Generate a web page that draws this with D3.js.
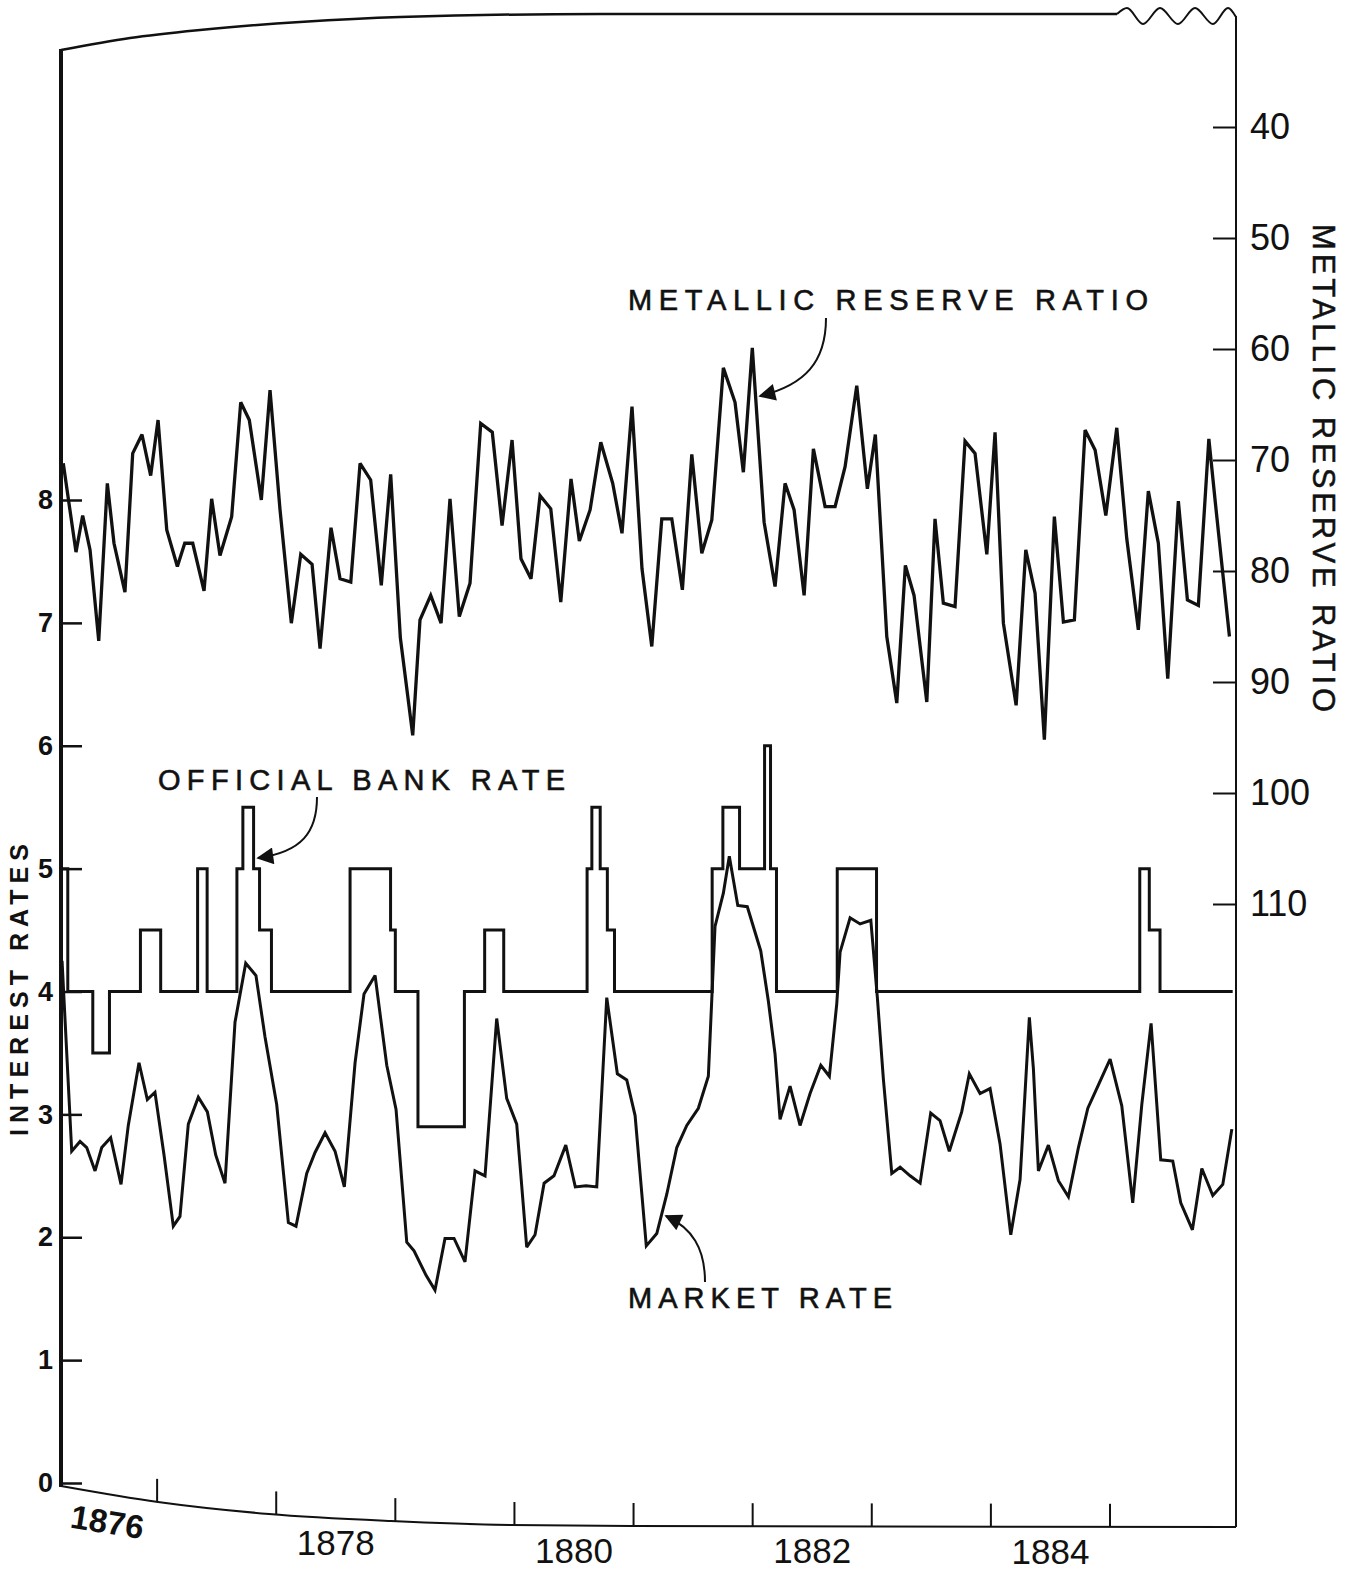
<!DOCTYPE html>
<html><head><meta charset="utf-8">
<script src="https://cdn.jsdelivr.net/npm/d3@7"></script>
<style>body{margin:0;background:#fff} svg{display:block}</style>
</head><body>
<svg id="chart" width="1353" height="1572"></svg>
<script>
// ---------------- DATA ----------------
const mrrDates = [1876.212,1876.319,1876.375,1876.437,1876.510,1876.582,1876.638,1876.730,1876.795,1876.873,
1876.946,1877.008,1877.081,1877.170,1877.232,1877.299,1877.394,1877.458,1877.528,1877.626,
1877.702,1877.774,1877.875,1877.948,1878.032,1878.127,1878.206,1878.301,1878.368,1878.460,
1878.536,1878.626,1878.704,1878.793,1878.882,1878.961,1879.042,1879.146,1879.207,1879.297,
1879.384,1879.459,1879.537,1879.627,1879.717,1879.814,1879.896,1879.980,1880.055,1880.139,
1880.215,1880.305,1880.389,1880.475,1880.545,1880.635,1880.725,1880.825,1880.903,1880.987,
1881.071,1881.153,1881.237,1881.321,1881.410,1881.489,1881.573,1881.657,1881.754,1881.852,
1881.922,1881.997,1882.096,1882.188,1882.272,1882.348,1882.432,1882.510,1882.608,1882.692,
1882.776,1882.874,1882.963,1883.030,1883.126,1883.210,1883.282,1883.355,1883.462,1883.531,
1883.601,1883.699,1883.783,1883.867,1883.966,1884.035,1884.105,1884.212,1884.293,1884.371,
1884.449,1884.533,1884.609,1884.701,1884.791,1884.875,1884.965,1885.057,1885.141,1885.238,
1885.322,1885.406,1885.485,1885.574,1885.650,1885.742,1885.830,1885.885,1886.003];
const mrrValues = [70.3,78.3,75.0,78.1,86.3,72.1,77.5,81.9,69.4,67.7,
71.4,66.4,76.3,79.6,77.5,77.5,81.8,73.5,78.6,75.1,
64.8,66.4,73.6,63.7,74.5,84.7,78.5,79.4,87.0,76.1,
80.7,81.0,70.3,71.8,81.3,71.3,86.0,94.8,84.4,82.2,
84.7,73.5,84.1,81.1,66.7,67.5,75.9,68.2,78.9,80.7,
73.2,74.4,82.8,71.7,77.3,74.5,68.4,72.1,76.6,65.2,
79.8,86.8,75.3,75.3,81.7,69.5,78.4,75.4,61.7,64.8,
71.1,59.9,75.6,81.4,72.1,74.5,82.2,69.0,74.2,74.2,
70.6,63.3,72.6,67.7,85.9,91.9,79.5,82.2,91.8,75.3,
82.9,83.2,68.3,69.4,78.5,67.5,84.7,92.1,78.1,82.0,
95.2,75.1,84.6,84.4,67.3,69.1,75.0,67.1,77.1,85.3,
72.8,77.5,89.7,73.7,82.6,83.1,68.1,73.9,85.9];

const marketDates = [1876.202,1876.283,1876.353,1876.409,1876.479,1876.535,1876.610,1876.697,1876.758,1876.848,
1876.918,1876.982,1877.058,1877.136,1877.192,1877.262,1877.346,1877.422,1877.492,1877.570,
1877.654,1877.744,1877.830,1877.906,1878.004,1878.102,1878.166,1878.256,1878.326,1878.410,
1878.494,1878.572,1878.662,1878.737,1878.830,1878.928,1879.006,1879.096,1879.157,1879.258,
1879.333,1879.417,1879.493,1879.585,1879.669,1879.753,1879.851,1879.935,1880.019,1880.103,
1880.173,1880.249,1880.332,1880.431,1880.511,1880.601,1880.691,1880.775,1880.864,1880.943,
1881.013,1881.107,1881.195,1881.279,1881.363,1881.447,1881.544,1881.628,1881.684,1881.754,
1881.804,1881.875,1881.955,1882.068,1882.132,1882.188,1882.230,1882.314,1882.398,1882.482,
1882.572,1882.644,1882.706,1882.734,1882.818,1882.902,1882.992,1883.047,1883.098,1883.168,
1883.238,1883.322,1883.406,1883.495,1883.573,1883.651,1883.755,1883.819,1883.909,1883.993,
1884.077,1884.167,1884.245,1884.323,1884.357,1884.399,1884.483,1884.567,1884.651,1884.735,
1884.814,1884.903,1885.001,1885.099,1885.191,1885.267,1885.345,1885.426,1885.527,1885.594,
1885.692,1885.771,1885.863,1885.947,1886.023];
const marketValues = [4.25,2.70,2.78,2.73,2.54,2.73,2.81,2.43,2.91,3.42,
3.12,3.18,2.67,2.09,2.17,2.92,3.14,3.02,2.67,2.44,
3.75,4.23,4.13,3.63,3.08,2.12,2.09,2.52,2.69,2.85,
2.70,2.41,3.42,3.98,4.13,3.40,3.04,1.96,1.89,1.69,
1.57,1.99,1.99,1.80,2.54,2.50,3.78,3.13,2.92,1.92,
2.02,2.44,2.50,2.75,2.41,2.42,2.41,3.95,3.33,3.28,
2.99,1.93,2.03,2.35,2.73,2.91,3.05,3.31,4.53,4.80,
5.10,4.70,4.69,4.33,3.92,3.49,2.96,3.23,2.91,3.17,
3.40,3.31,3.90,4.32,4.60,4.55,4.58,3.95,3.28,2.52,
2.57,2.50,2.44,3.01,2.95,2.70,3.02,3.33,3.17,3.21,
2.76,2.02,2.47,3.79,3.37,2.54,2.75,2.46,2.33,2.73,
3.05,3.24,3.45,3.07,2.28,3.08,3.74,2.63,2.62,2.28,
2.06,2.56,2.34,2.43,2.88];

// official bank rate: value holds from each date until the next one
const bankDates = [1876.20,1876.25,1876.46,1876.60,1876.86,1877.03,1877.34,1877.42,1877.67,1877.72,
1877.81,1877.86,1877.96,1878.62,1878.96,1879.00,1879.19,1879.58,1879.75,1879.91,
1880.61,1880.65,1880.72,1880.78,1880.84,1881.66,1881.75,1881.89,1882.10,1882.15,
1882.20,1882.71,1883.04,1885.25,1885.33,1885.42,1886.03];
const bankValues = [5,4,3.5,4,4.5,4,5,4,5,5.5,
5,4.5,4,5,4.5,4,2.9,4,4.5,4,
5,5.5,5,4.5,4,5,5.5,5,6,5,
4,5,4,5,4.5,4,4];

const leftTicks = [0,1,2,3,4,5,6,7,8];
const rightTicks = [40,50,60,70,80,90,100,110];
const yearTicks = [1877,1878,1879,1880,1881,1882,1883,1884,1885];
const yearLabels = [1876,1878,1880,1882,1884];

// ---------------- DRAWING ----------------
const FONT = "'Liberation Sans', Arial, sans-serif";
const ink = '#111';
const svg = d3.select('#chart');

const x = d3.scaleLinear().domain([1876, 1886]).range([38, 1229.1]);
const yL = d3.scaleLinear().domain([0, 8]).range([1483, 500]);
const yR = d3.scaleLinear().domain([40, 110]).range([127, 904]);

const leftX = 61, rightX = 1236;
// warped bottom baseline of the paper
const baseY = d3.scaleLinear().domain([61,158,269,391,511,631,1236]).range([1486,1502,1514,1521,1525,1526,1527]);

const defs = svg.append('defs');
defs.append('marker').attr('id','arrow').attr('viewBox','0 0 10 10')
  .attr('refX',9).attr('refY',5).attr('markerWidth',22).attr('markerHeight',17)
  .attr('markerUnits','userSpaceOnUse').attr('orient','auto')
  .append('path').attr('d','M0,0 L10,5 L0,10 Z').attr('fill',ink);

// frame
const topPts = [[leftX,50],[130,38],[200,30],[300,22],[400,17],[600,14],[1117,14]];
svg.append('path').attr('d', d3.line().curve(d3.curveMonotoneX)(topPts))
  .attr('fill','none').attr('stroke',ink).attr('stroke-width',2.5);
const wavePts = [[1117,14],[1127,8],[1143,24],[1160,8],[1178,24],[1195,8],[1213,24],[1228,8],[1236,17]];
svg.append('path').attr('d', d3.line().curve(d3.curveMonotoneX)(wavePts))
  .attr('fill','none').attr('stroke',ink).attr('stroke-width',2);
svg.append('line').attr('x1',rightX).attr('x2',rightX).attr('y1',16).attr('y2',1527)
  .attr('stroke',ink).attr('stroke-width',2);
svg.append('line').attr('x1',leftX).attr('x2',leftX).attr('y1',49).attr('y2',1487)
  .attr('stroke',ink).attr('stroke-width',4);
const basePts = baseY.domain().map(d => [d, baseY(d)]);
svg.append('path').attr('d', d3.line().curve(d3.curveMonotoneX)(basePts))
  .attr('fill','none').attr('stroke',ink).attr('stroke-width',2);

// year ticks on the curved baseline
svg.selectAll('.yt').data(yearTicks).join('line')
  .attr('x1', d => x(d)).attr('x2', d => x(d))
  .attr('y1', d => baseY(x(d))).attr('y2', d => baseY(x(d)) - 23)
  .attr('stroke', ink).attr('stroke-width', 2);
svg.selectAll('.yl').data(yearLabels).join('text')
  .attr('transform', d => {
    const cx = x(d + 0.5) + (d === 1876 ? 8 : 0);
    const cy = baseY(cx) + (d === 1876 ? 40 : 37);
    return `translate(${cx},${cy}) rotate(${d === 1876 ? 9 : 0})`;
  })
  .attr('text-anchor','middle').attr('font-family',FONT)
  .attr('font-size', d => d === 1876 ? 33 : 35)
  .attr('font-weight', d => d === 1876 ? 'bold' : 'normal')
  .attr('fill',ink).text(d => d);

// left axis
const axL = svg.append('g').attr('transform',`translate(${leftX},0)`)
  .call(d3.axisLeft(yL).tickValues(leftTicks).tickSize(-21).tickSizeOuter(0).tickPadding(8).tickFormat(d3.format('d')));
axL.select('.domain').remove();
axL.selectAll('line').attr('stroke',ink).attr('stroke-width',2.5);
axL.selectAll('text').attr('font-family',FONT).attr('font-size',27).attr('font-weight','bold').attr('fill',ink);

// right axis
const axR = svg.append('g').attr('transform',`translate(${rightX},0)`)
  .call(d3.axisRight(yR).tickValues(rightTicks).tickSize(-23).tickSizeOuter(0).tickPadding(14).tickFormat(d3.format('d')));
axR.select('.domain').remove();
axR.selectAll('line').attr('stroke',ink).attr('stroke-width',2);
axR.selectAll('text').attr('font-family',FONT).attr('font-size',36).attr('fill',ink);

// axis titles
svg.append('text').attr('transform','translate(28,1136) rotate(-90)')
  .attr('font-family',FONT).attr('font-size',25).attr('font-weight','bold').attr('fill',ink)
  .attr('textLength',292).attr('lengthAdjust','spacing').text('INTEREST RATES');
svg.append('text').attr('transform','translate(1313,224) rotate(90)')
  .attr('font-family',FONT).attr('font-size',31).attr('fill',ink)
  .attr('stroke',ink).attr('stroke-width',0.5)
  .attr('textLength',488).attr('lengthAdjust','spacing').text('METALLIC RESERVE RATIO');

// series
const mrr = mrrDates.map((d,i) => [d, mrrValues[i]]);
const market = marketDates.map((d,i) => [d, marketValues[i]]);
const bank = bankDates.map((d,i) => [d, bankValues[i]]);

svg.append('path').datum(mrr)
  .attr('d', d3.line().x(d => x(d[0])).y(d => yR(d[1])))
  .attr('fill','none').attr('stroke',ink).attr('stroke-width',3.3)
  .attr('stroke-linejoin','miter').attr('stroke-miterlimit',3);
svg.append('path').datum(bank)
  .attr('d', d3.line().curve(d3.curveStepAfter).x(d => x(d[0])).y(d => yL(d[1])))
  .attr('fill','none').attr('stroke',ink).attr('stroke-width',3);
svg.append('path').datum(market)
  .attr('d', d3.line().x(d => x(d[0])).y(d => yL(d[1])))
  .attr('fill','none').attr('stroke',ink).attr('stroke-width',3)
  .attr('stroke-linejoin','miter').attr('stroke-miterlimit',3);

// labels with arrows
function label(txt, x0, yb, len) {
  svg.append('text').attr('x',x0).attr('y',yb).attr('font-family',FONT).attr('font-size',29)
    .attr('fill',ink).attr('stroke',ink).attr('stroke-width',0.6)
    .attr('textLength',len).attr('lengthAdjust','spacing').text(txt);
}
label('METALLIC  RESERVE  RATIO', 628, 310, 520);
label('OFFICIAL  BANK  RATE', 158, 790, 407);
label('MARKET  RATE', 628, 1308, 264);

const arrows = [
  'M826,318 C826,362 805,385 760,396',
  'M317,797 C317,832 302,852 258,858',
  'M705,1282 C705,1248 692,1228 666,1216'
];
svg.selectAll('.arr').data(arrows).join('path')
  .attr('d', d => d).attr('fill','none').attr('stroke',ink).attr('stroke-width',2)
  .attr('marker-end','url(#arrow)');
</script>
</body></html>
